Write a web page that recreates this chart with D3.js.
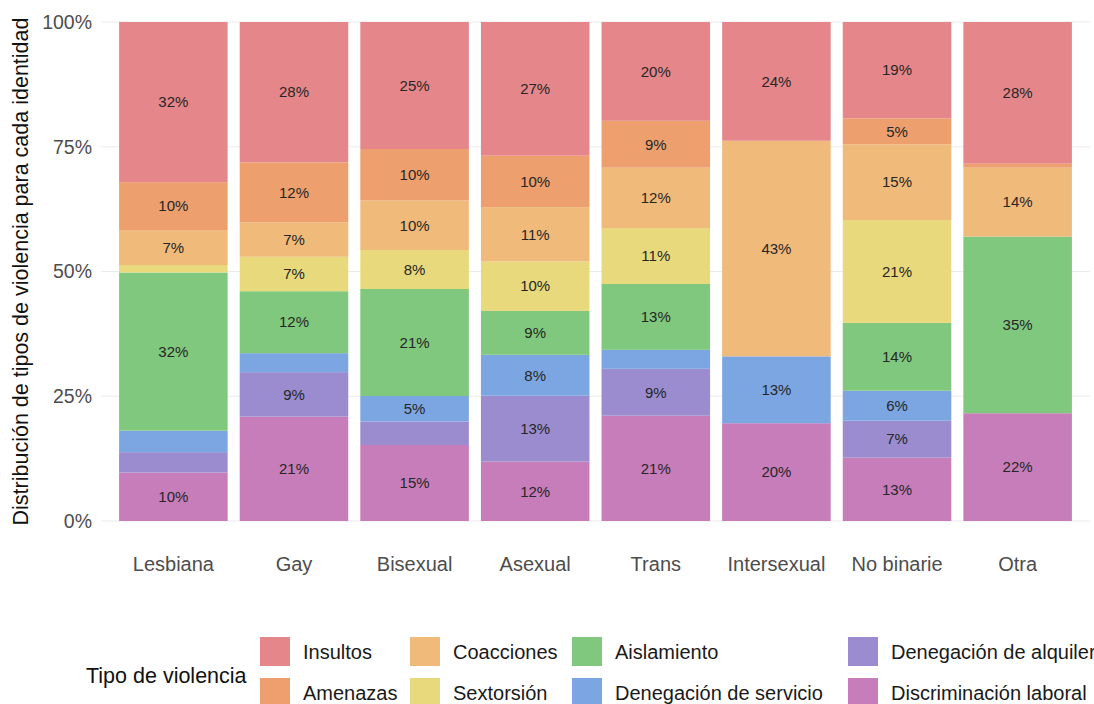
<!DOCTYPE html>
<html>
<head>
<meta charset="utf-8">
<script src="https://cdn.jsdelivr.net/npm/d3@7"></script>
<style>
  body { margin: 0; background: #fff; }
  svg { font-family: "Liberation Sans", Arial, sans-serif; }
</style>
</head>
<body>
<div id="chart"></div>
<script>
// Categories (identities) along the x axis
const identidades = ["Lesbiana", "Gay", "Bisexual", "Asexual", "Trans", "Intersexual", "No binarie", "Otra"];

// Share of each violence type per identity (%)
const insultos      = [32.1, 28.1, 25.4, 26.8, 19.8, 23.8, 19.3, 28.4];
const amenazas      = [9.6, 12.0, 10.3, 10.3, 9.4, 0, 5.2, 0.8];
const coacciones    = [7.0, 6.9, 9.9, 10.9, 12.1, 43.2, 15.2, 13.8];
const sextorsion    = [1.5, 6.9, 7.8, 9.9, 11.2, 0, 20.6, 0];
const aislamiento   = [31.7, 12.4, 21.4, 8.8, 13.2, 0, 13.6, 35.4];
const servicio      = [4.3, 3.8, 5.1, 8.2, 3.8, 13.4, 6.0, 0];
const alquiler      = [4.1, 8.9, 4.7, 13.2, 9.4, 0, 7.4, 0];
const laboral       = [9.7, 20.9, 15.2, 11.9, 21.1, 19.6, 12.7, 21.6];

const tipos = ["Insultos", "Amenazas", "Coacciones", "Sextorsión", "Aislamiento",
  "Denegación de servicio", "Denegación de alquiler", "Discriminación laboral"];
const serieValues = [insultos, amenazas, coacciones, sextorsion, aislamiento, servicio, alquiler, laboral];
const colores = ["#E5878A", "#EDA06E", "#F0BA7B", "#E8D97C", "#80C87D", "#7BA6E2", "#9A8CCF", "#C77DBA"];

const yTicks = [0, 0.25, 0.5, 0.75, 1];

// legend column order (column-major, 2 rows)
const legendCols = [["Insultos", "Amenazas"], ["Coacciones", "Sextorsión"],
  ["Aislamiento", "Denegación de servicio"], ["Denegación de alquiler", "Discriminación laboral"]];

const W = 1094, H = 704;
const plot = { left: 101, right: 1090, top: 22, bottom: 521 };

const svg = d3.select("#chart").append("svg")
  .attr("width", W).attr("height", H);

// build table for stack
const table = identidades.map((id, i) => {
  const row = { id: id };
  tipos.forEach((t, j) => { row[t] = serieValues[j][i]; });
  return row;
});

const color = d3.scaleOrdinal().domain(tipos).range(colores);

// stack from bottom (laboral) to top (insultos)
const stackKeys = tipos.slice().reverse();
const series = d3.stack().keys(stackKeys).offset(d3.stackOffsetExpand)(table);

const x = d3.scaleBand().domain(identidades)
  .range([plot.left, plot.right]).paddingInner(0.1).paddingOuter(0.15);
const y = d3.scaleLinear().domain([0, 1]).range([plot.bottom, plot.top]);

// gridlines
svg.append("g").selectAll("line").data(yTicks).join("line")
  .attr("x1", plot.left).attr("x2", plot.right)
  .attr("y1", d => y(d)).attr("y2", d => y(d))
  .attr("stroke", "#ebebeb").attr("stroke-width", 1);

// bars
const layers = svg.append("g").selectAll("g").data(series).join("g")
  .attr("fill", d => color(d.key));

layers.selectAll("rect").data(d => d).join("rect")
  .attr("x", d => x(d.data.id))
  .attr("width", x.bandwidth())
  .attr("y", d => y(d[1]))
  .attr("height", d => y(d[0]) - y(d[1]));

// labels (only segments of 5% or more)
layers.selectAll("text").data(d => d.filter(p => (p[1] - p[0]) * 100 >= 5)).join("text")
  .attr("x", d => x(d.data.id) + x.bandwidth() / 2)
  .attr("y", d => y((d[0] + d[1]) / 2))
  .attr("dy", "0.35em")
  .attr("text-anchor", "middle")
  .attr("fill", "#262626")
  .attr("font-size", 15)
  .text(d => Math.round((d[1] - d[0]) * 100) + "%");

// y axis
const yAxis = d3.axisLeft(y).tickValues(yTicks).tickFormat(d3.format(".0%")).tickSize(0).tickPadding(9);
const gy = svg.append("g").attr("transform", `translate(${plot.left},0)`).call(yAxis);
gy.select(".domain").remove();
gy.selectAll("text").attr("font-size", 19.5).attr("fill", "#4d4d4d")
  .attr("font-family", "Liberation Sans, Arial, sans-serif");

// x axis
const xAxis = d3.axisBottom(x).tickSize(0).tickPadding(36);
const gx = svg.append("g").attr("transform", `translate(0,${plot.bottom})`).call(xAxis);
gx.select(".domain").remove();
gx.selectAll("text").attr("font-size", 20).attr("fill", "#4d4d4d")
  .attr("font-family", "Liberation Sans, Arial, sans-serif");

// y title
svg.append("text")
  .attr("transform", `translate(28,${(plot.top + plot.bottom) / 2}) rotate(-90)`)
  .attr("text-anchor", "middle")
  .attr("font-size", 21.5)
  .attr("fill", "#111")
  .text("Distribución de tipos de violencia para cada identidad");

// legend
const legend = svg.append("g");
legend.append("text")
  .attr("x", 86).attr("y", 683)
  .attr("font-size", 21.5).attr("fill", "#111")
  .text("Tipo de violencia");

const colX = [260, 410, 572, 848];
const rowY = [637, 678];
const keySize = 30;

legendCols.forEach((col, ci) => {
  col.forEach((name, ri) => {
    const g = legend.append("g").attr("transform", `translate(${colX[ci]},${rowY[ri]})`);
    g.append("rect").attr("width", keySize).attr("height", keySize - 1).attr("fill", color(name));
    g.append("text").attr("x", keySize + 13).attr("y", keySize / 2).attr("dy", "0.35em")
      .attr("font-size", 20).attr("fill", "#1a1a1a").text(name);
  });
});
</script>
</body>
</html>
